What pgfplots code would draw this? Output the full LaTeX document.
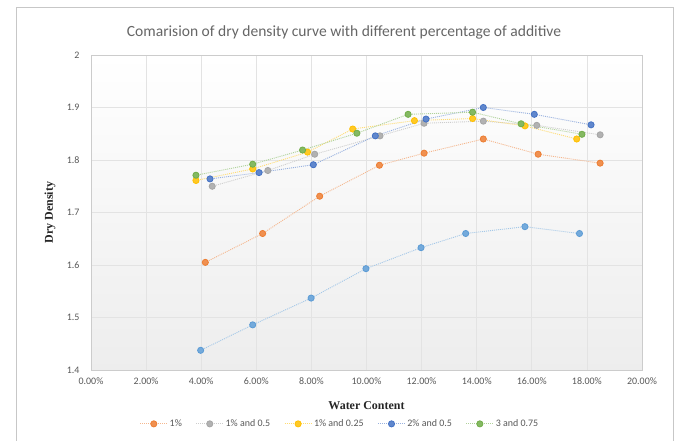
\documentclass[border=0pt]{standalone}
\usepackage{pgfplots}
\pgfplotsset{compat=1.18}
\usepackage{fontspec}
\setmainfont{Carlito}
\newfontfamily\serifb{Liberation Serif}
\definecolor{cOr}{HTML}{ED7D31}
\definecolor{cGr}{HTML}{A5A5A5}
\definecolor{cYe}{HTML}{FFC000}
\definecolor{cBl}{HTML}{4472C4}
\definecolor{cGn}{HTML}{70AD47}
\definecolor{cLb}{HTML}{5B9BD5}
\definecolor{tgray}{HTML}{595959}
\definecolor{grid}{HTML}{E3E3E3}
\pgfplotsset{
  ser/.style={draw=#1!55!white, line width=0.9pt, dash pattern=on 1pt off 1pt,
    mark=*, mark size=3.1pt, mark options={solid, fill=#1!85!white, draw=#1, line width=0.8pt}},
}
\begin{document}
\begin{tikzpicture}
\path[use as bounding box] (0,0) rectangle (678bp,441bp);
\fill[white] (0,0) rectangle (678bp,441bp);
\draw[black!22, line width=0.6pt] (16bp,0) -- (16bp,434bp) -- (673bp,434bp) -- (673bp,0);
\node[text=black!60, font=\fontsize{15.6}{18}\selectfont] at (344bp,409bp) {Comarision of dry density curve with different percentage of additive};
\begin{axis}[
  at={(91bp,71bp)}, anchor=south west, scale only axis,
  width=551bp, height=315bp,
  xmin=0, xmax=20, ymin=1.4, ymax=2,
  xtick={0,2,4,6,8,10,12,14,16,18,20},
  xticklabels={0.00\%,2.00\%,4.00\%,6.00\%,8.00\%,10.00\%,12.00\%,14.00\%,16.00\%,18.00\%,20.00\%},
  ytick={1.4,1.5,1.6,1.7,1.8,1.9,2},
  yticklabels={1.4,1.5,1.6,1.7,1.8,1.9,2},
  /pgf/number format/assume math mode=true,
  grid=major, major grid style={draw=grid, line width=0.7pt},
  axis line style={draw=black!20},
  major tick length=0pt,
  tick label style={font=\fontsize{10}{12}\selectfont, text=tgray},
  xticklabel style={yshift=-4bp},
  yticklabel style={xshift=-8bp},
  axis background/.style={shade, top color=white, bottom color=black!7},
  xlabel={\serifb\bfseries Water Content},
  ylabel={\serifb\bfseries Dry Density},
  label style={font=\fontsize{12}{14}\selectfont, text=black!85},
  xlabel style={at={(axis description cs:0.5,-0.114)}, anchor=center},
  ylabel style={at={(axis description cs:-0.0744,0.5)}, anchor=center},
  legend columns=5,
  legend style={at={(axis description cs:0.452,-0.171)}, anchor=center, draw=none, fill=none,
    font=\fontsize{10}{12}\selectfont, text=tgray, /tikz/every even column/.append style={column sep=12bp}},
  legend image code/.code={\draw[#1, mark=none] (0cm,0cm) -- (0.95cm,0cm); \draw[#1, only marks] plot coordinates {(0.475cm,0cm)};},
]
\addplot[ser=cLb, forget plot] coordinates {(3.98,1.4375) (5.87,1.486) (7.99,1.537) (9.98,1.593) (11.98,1.633) (13.6,1.660) (15.75,1.673) (17.73,1.660)};
\addplot[ser=cOr] coordinates {(4.15,1.605) (6.23,1.660) (8.30,1.731) (10.47,1.790) (12.09,1.813) (14.24,1.840) (16.23,1.811) (18.48,1.794)};
\addplot[ser=cGr] coordinates {(4.40,1.750) (6.42,1.780) (8.12,1.811) (10.49,1.846) (12.09,1.870) (14.24,1.874) (16.18,1.866) (18.48,1.848)};
\addplot[ser=cYe] coordinates {(3.81,1.761) (5.87,1.783) (7.86,1.815) (9.50,1.859) (11.74,1.875) (13.85,1.879) (15.75,1.865) (17.63,1.840)};
\addplot[ser=cBl] coordinates {(4.32,1.764) (6.10,1.776) (8.07,1.791) (10.32,1.846) (12.16,1.878) (14.24,1.900) (16.09,1.887) (18.15,1.867)};
\addplot[ser=cGn] coordinates {(3.81,1.771) (5.87,1.792) (7.68,1.819) (9.65,1.851) (11.51,1.887) (13.85,1.891) (15.61,1.869) (17.82,1.849)};
\legend{1\%, 1\% and 0.5, 1\% and 0.25, 2\% and 0.5, 3 and 0.75}
\end{axis}
\end{tikzpicture}
\end{document}
